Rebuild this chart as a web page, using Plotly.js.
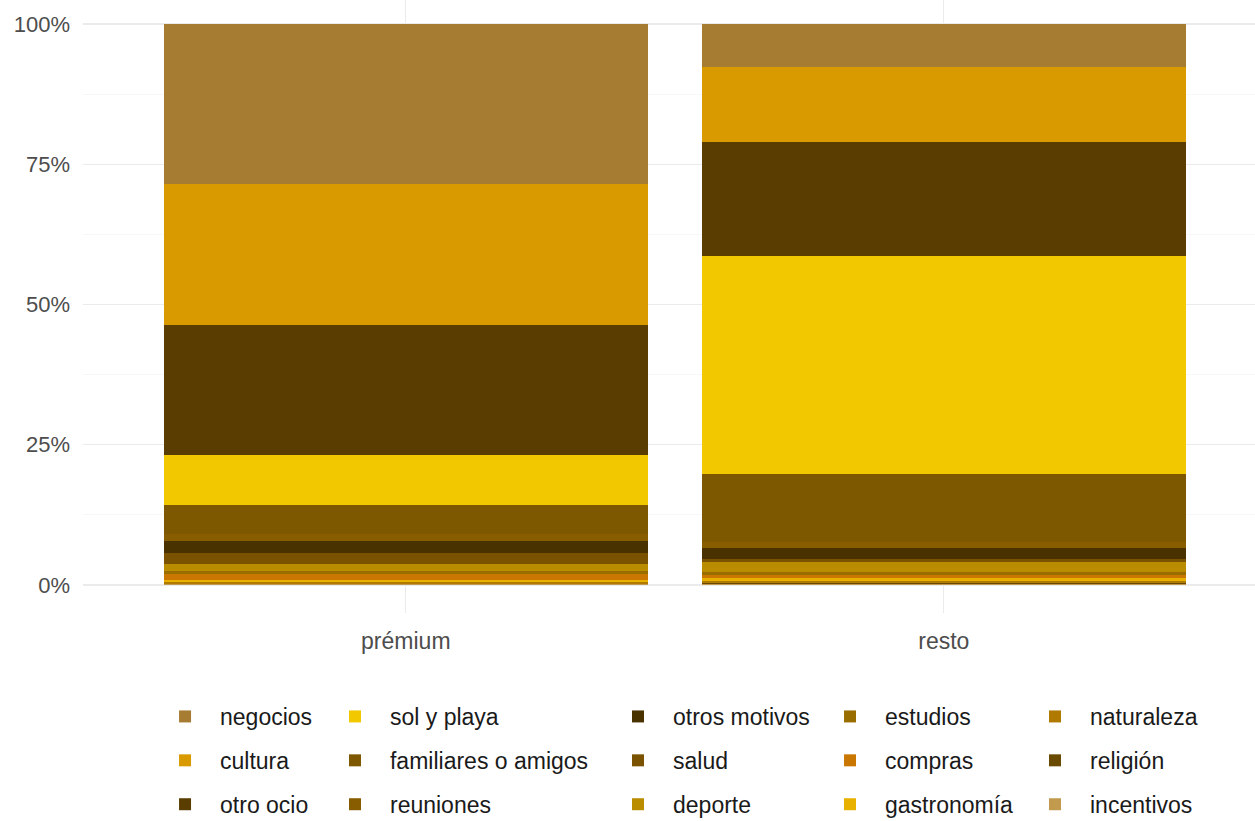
<!DOCTYPE html>
<html>
<head>
<meta charset="utf-8">
<script src="https://cdn.plot.ly/plotly-3.0.1.min.js"></script>
<style>html,body{margin:0;padding:0;background:#fff;}#chart{width:1255px;height:821px;}</style>
</head>
<body>
<div id="chart"></div>
<script>
// Categories (x axis)
const categories = ['prémium', 'resto'];

// Motives, in ggplot order (first = top of stack)
const motives = ['negocios', 'cultura', 'otro ocio', 'sol y playa', 'familiares o amigos', 'reuniones',
  'otros motivos', 'salud', 'deporte', 'estudios', 'compras', 'gastronomía', 'naturaleza', 'religión', 'incentivos'];

// Shares (%) per motive
const premiumValues = [28.5, 25.1, 23.2, 8.9, 5.3, 1.2, 2.1, 2.0, 1.2, 0.6, 1.0, 0.4, 0.3, 0.1, 0.1];
const restoValues   = [7.7, 13.4, 20.3, 38.9, 12.0, 1.2, 1.8, 0.6, 1.8, 0.5, 0.6, 0.5, 0.4, 0.2, 0.1];

const motiveColors = ['#A67C32', '#D99A00', '#5A3D00', '#F2C800', '#7E5800', '#885D00',
  '#4A3100', '#7A5200', '#BA8C00', '#9A6D00', '#C97700', '#E8B100', '#B07A00', '#6A4900', '#C29A4E'];

// Legend columns (3 items each, column-major like ggplot)
const legendIds = ['legend', 'legend2', 'legend3', 'legend4', 'legend5'];

const traces = [];
for (let i = motives.length - 1; i >= 0; i--) {
  traces.push({
    type: 'bar',
    name: motives[i],
    x: categories,
    y: [premiumValues[i], restoValues[i]],
    marker: {color: motiveColors[i], line: {width: 0}},
    legend: legendIds[Math.floor(i / 3)],
    legendgroup: 'g' + i,
    legendrank: i + 1,
    hoverinfo: 'name+y'
  });
}

const legendFont = {family: 'Liberation Sans, Arial, sans-serif', size: 23, color: '#1a1a1a'};
const legendXs = [0.0572, 0.2022, 0.4437, 0.6246, 0.7995];
const legendBase = {
  orientation: 'v', yref: 'container', yanchor: 'top', y: 0.1535, xanchor: 'left',
  font: legendFont, itemwidth: 60, tracegroupgap: 11, traceorder: 'grouped',
  bgcolor: 'rgba(0,0,0,0)', borderwidth: 0, itemclick: false, itemdoubleclick: false
};

const layout = {
  width: 1255, height: 821,
  margin: {l: 83, r: 0, t: 0, b: 208, pad: 0},
  paper_bgcolor: '#ffffff', plot_bgcolor: '#ffffff',
  barmode: 'stack', barnorm: 'percent', bargap: 0.1,
  font: {family: 'Liberation Sans, Arial, sans-serif', size: 23, color: '#4D4D4D'},
  xaxis: {
    type: 'category', range: [-0.6, 1.5784],
    showgrid: true, gridcolor: '#EBEBEB', gridwidth: 1.2,
    showline: false, zeroline: false, ticks: '',
    tickfont: {size: 23, color: '#4D4D4D'}, ticklabelstandoff: 12
  },
  yaxis: {
    range: [-5, 104.28], tickvals: [0, 25, 50, 75, 100], ticktext: ['0%', '25%', '50%', '75%', '100%'],
    showgrid: true, gridcolor: '#EBEBEB', gridwidth: 1.2,
    minor: {tickvals: [12.5, 37.5, 62.5, 87.5], showgrid: true, gridcolor: '#F3F3F3', gridwidth: 0.7, ticks: ''},
    showline: false, zeroline: false, ticks: '',
    tickfont: {size: 22, color: '#4D4D4D'}, ticklabelstandoff: 12
  },
  showlegend: true
};
legendIds.forEach((id, k) => {
  layout[id] = Object.assign({}, legendBase, {x: legendXs[k]});
});

Plotly.newPlot('chart', traces, layout, {displayModeBar: false, staticPlot: true});
</script>
</body>
</html>
